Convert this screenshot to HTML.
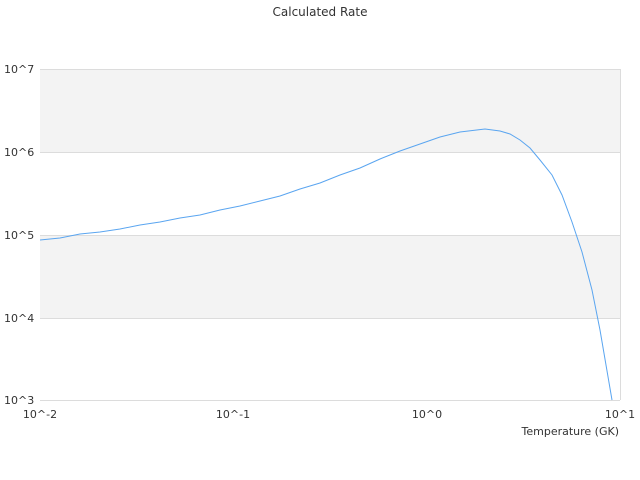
<!DOCTYPE html>
<html><head><style>
body{margin:0;background:#fff;}
svg{display:block;font-family:"DejaVu Sans","Liberation Sans",sans-serif;}
</style></head><body>
<svg width="640" height="480" xmlns="http://www.w3.org/2000/svg">
<rect width="640" height="480" fill="#fff"/>
<text x="320" y="16" font-size="12" fill="#333" text-anchor="middle">Calculated Rate</text>
<rect x="40" y="69" width="580" height="83" fill="#f3f3f3"/>
<rect x="40" y="235" width="580" height="83" fill="#f3f3f3"/>
<g stroke="#dcdcdc" stroke-width="1">
<line x1="40" y1="69.5" x2="620" y2="69.5"/>
<line x1="40" y1="152.5" x2="620" y2="152.5"/>
<line x1="40" y1="235.5" x2="620" y2="235.5"/>
<line x1="40" y1="318.5" x2="620" y2="318.5"/>
<line x1="40" y1="400.5" x2="620" y2="400.5"/>
<line x1="620.5" y1="69" x2="620.5" y2="400"/>
</g>
<g font-size="11" fill="#333">
<text x="4" y="73">10^7</text>
<text x="4" y="156">10^6</text>
<text x="4" y="239">10^5</text>
<text x="4" y="322">10^4</text>
<text x="4" y="404">10^3</text>
<text x="40" y="418" text-anchor="middle">10^-2</text>
<text x="233" y="418" text-anchor="middle">10^-1</text>
<text x="427" y="418" text-anchor="middle">10^0</text>
<text x="620" y="418" text-anchor="middle">10^1</text>
<text x="619" y="435" text-anchor="end">Temperature (GK)</text>
</g>
<polyline fill="none" stroke="#5aa5f0" stroke-width="1" points="40,240 60,238 80,234 100,232 120,229 140,225 160,222 180,218 200,215 220,210 240,206 260,201 280,196 300,189 320,183 340,175 360,168 380,159 400,151 420,144 440,137 460,132 485,129 500,131 510,134 520,140 530,148 540,160 552,175 562,195 572,222 582,252 592,290 600,330 606,365 612,400"/>
</svg>
</body></html>
